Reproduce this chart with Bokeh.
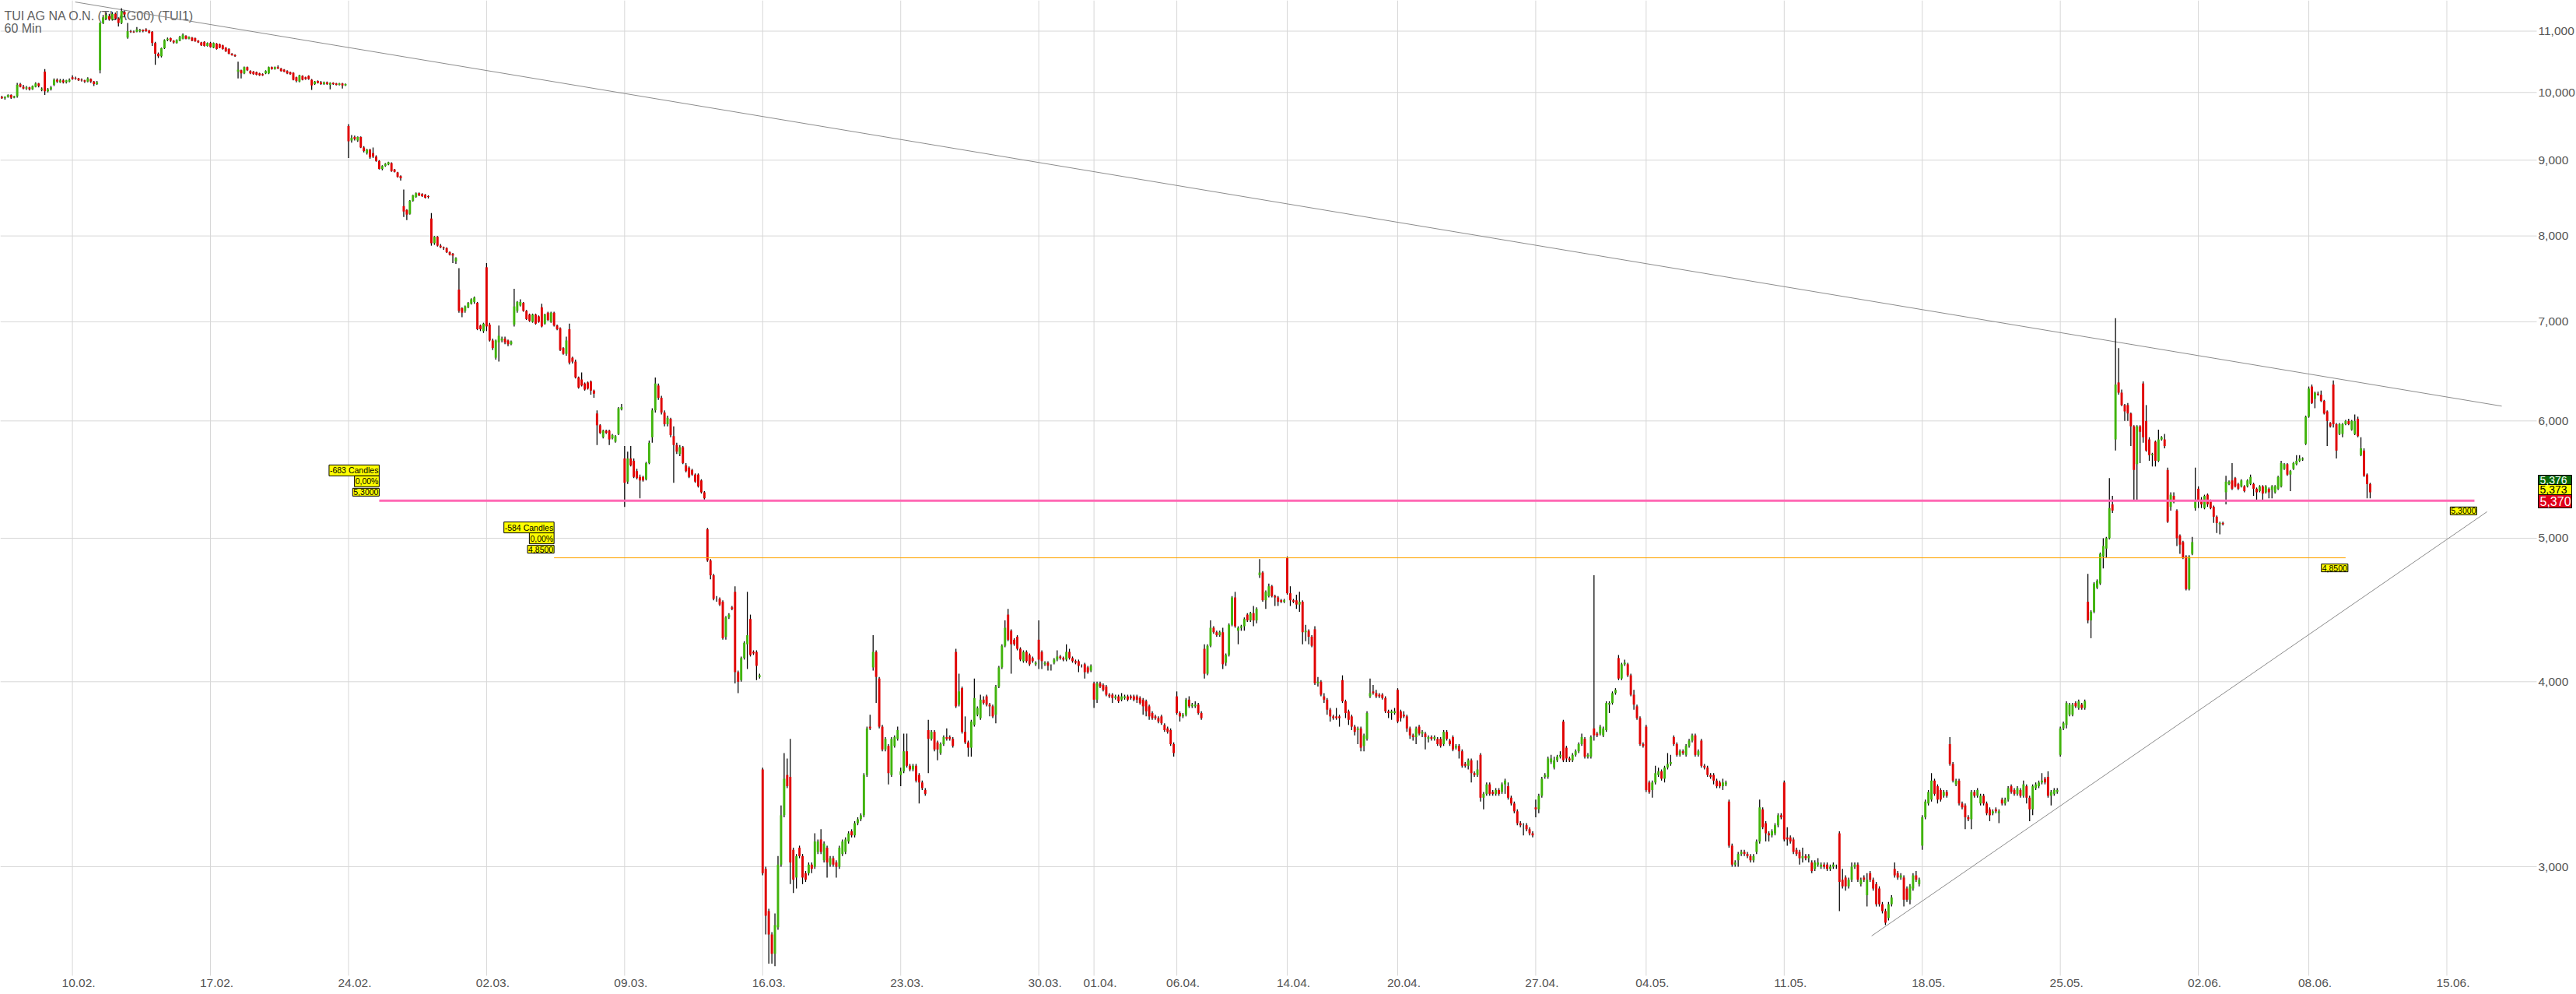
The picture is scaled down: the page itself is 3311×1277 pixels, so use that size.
import math
from bokeh.plotting import figure
from bokeh.models import ColumnDataSource, Range1d
from bokeh.core.properties import value
from bokeh.embed import file_html
from bokeh.resources import INLINE

# ---------------------------------------------------------------- data
title_text = "TUI AG NA O.N. (TUAG00) (TUI1)"
interval_text = "60 Min"

candles_per_day = 9
first_candle_of_first_day = 4      # the series starts in the 5th hour of 05.02.

# trading-day number (10.02. = 0) of the first day in each weekly block
week_start_day = [-3, 0, 5, 10, 15, 20, 25, 30, 35, 40, 44, 48, 53, 57, 62, 67, 72, 77, 81]

# hourly candles (open, high, low, close), one inner list per trading day
w0205 = [
    [(9.93,9.95,9.90,9.91),(9.91,9.94,9.89,9.93),(9.93,9.97,9.92,9.96),(9.96,9.97,9.90,9.92),(9.92,9.95,9.91,9.94)],
    [(9.94,10.15,9.92,10.12),(10.13,10.15,10.08,10.09),(10.09,10.12,10.05,10.06),(10.06,10.10,10.04,10.08),(10.08,10.09,10.03,10.05),(10.05,10.11,10.04,10.10),(10.09,10.16,10.08,10.14),(10.14,10.15,10.08,10.10),(10.04,10.08,10.02,10.06)],
    [(10.33,10.37,9.96,10.02),(10.02,10.07,10.00,10.05),(10.05,10.10,10.03,10.08),(10.12,10.22,10.10,10.20),(10.20,10.22,10.15,10.17),(10.16,10.21,10.15,10.19),(10.19,10.21,10.14,10.16),(10.16,10.20,10.14,10.19),(10.17,10.22,10.16,10.20)],
]
w0210 = [
    [(10.24,10.27,10.20,10.21),(10.23,10.25,10.20,10.22),(10.22,10.23,10.18,10.19),(10.20,10.22,10.17,10.19),(10.19,10.20,10.15,10.17),(10.17,10.24,10.16,10.22),(10.21,10.22,10.15,10.17),(10.17,10.18,10.10,10.13),(10.13,10.18,10.12,10.16)],
    [(10.35,11.15,10.30,11.14),(11.14,11.28,11.12,11.24),(11.22,11.32,11.20,11.28),(11.26,11.30,11.18,11.20),(11.20,11.33,11.18,11.30),(11.30,11.32,11.20,11.22),(11.22,11.24,11.08,11.14),(11.14,11.40,11.12,11.35),(11.33,11.36,11.25,11.29)],
    [(10.89,11.14,10.87,11.00),(11.00,11.02,10.97,10.99),(10.99,11.01,10.97,10.98),(10.99,11.07,10.98,11.03),(11.00,11.04,10.98,11.02),(11.02,11.03,10.98,11.00),(11.03,11.05,10.99,11.00),(11.01,11.02,10.96,10.97),(10.99,11.00,10.75,10.80)],
    [(10.80,10.82,10.44,10.62),(10.62,10.64,10.55,10.58),(10.58,10.72,10.56,10.71),(10.71,10.86,10.70,10.85),(10.85,10.89,10.83,10.87),(10.88,10.89,10.82,10.84),(10.84,10.85,10.79,10.81),(10.80,10.86,10.79,10.85),(10.84,10.92,10.83,10.90)],
    [(10.87,10.96,10.86,10.94),(10.92,10.93,10.86,10.87),(10.87,10.91,10.86,10.90),(10.89,10.90,10.83,10.84),(10.88,10.89,10.82,10.83),(10.84,10.85,10.80,10.81),(10.81,10.82,10.75,10.76),(10.82,10.83,10.74,10.75),(10.75,10.81,10.74,10.80)],
]
w0217 = [
    [(10.80,10.82,10.72,10.73),(10.72,10.81,10.71,10.80),(10.79,10.80,10.69,10.70),(10.78,10.79,10.71,10.72),(10.76,10.77,10.69,10.70),(10.72,10.73,10.65,10.66),(10.70,10.71,10.61,10.62),(10.62,10.63,10.59,10.60),(10.60,10.61,10.57,10.58)],
    [(10.33,10.49,10.22,10.36),(10.35,10.36,10.22,10.30),(10.30,10.41,10.29,10.40),(10.40,10.41,10.34,10.35),(10.34,10.35,10.29,10.30),(10.33,10.34,10.28,10.29),(10.32,10.33,10.27,10.28),(10.30,10.31,10.26,10.27),(10.29,10.30,10.26,10.27)],
    [(10.30,10.35,10.29,10.34),(10.30,10.41,10.29,10.40),(10.40,10.41,10.36,10.37),(10.37,10.41,10.36,10.40),(10.40,10.43,10.37,10.38),(10.38,10.39,10.33,10.34),(10.36,10.37,10.32,10.33),(10.34,10.35,10.29,10.30),(10.32,10.33,10.28,10.29)],
    [(10.31,10.32,10.19,10.20),(10.24,10.25,10.16,10.18),(10.17,10.28,10.16,10.27),(10.26,10.27,10.19,10.20),(10.24,10.25,10.20,10.21),(10.26,10.27,10.20,10.21),(10.20,10.21,10.04,10.11),(10.13,10.18,10.12,10.17),(10.18,10.19,10.14,10.15)],
    [(10.16,10.18,10.12,10.13),(10.13,10.17,10.12,10.16),(10.16,10.17,10.12,10.13),(10.12,10.16,10.05,10.15),(10.15,10.16,10.12,10.13),(10.14,10.15,10.11,10.12),(10.12,10.15,10.11,10.14),(10.14,10.15,10.06,10.11),(10.11,10.14,10.10,10.13)],
]
w0224 = [
    [(9.49,9.52,9.03,9.27),(9.28,9.36,9.25,9.32),(9.33,9.35,9.28,9.30),(9.28,9.34,9.26,9.33),(9.33,9.34,9.17,9.18),(9.18,9.20,9.11,9.13),(9.10,9.16,9.08,9.15),(9.15,9.16,9.02,9.04),(9.10,9.18,9.03,9.05)],
    [(9.05,9.07,8.98,8.99),(8.99,9.00,8.87,8.88),(8.88,8.93,8.86,8.92),(8.92,8.96,8.91,8.95),(8.94,8.98,8.93,8.97),(8.96,8.97,8.84,8.85),(8.87,8.88,8.83,8.84),(8.83,8.84,8.76,8.77),(8.78,8.79,8.72,8.75)],
    [(8.38,8.60,8.24,8.31),(8.33,8.34,8.20,8.27),(8.28,8.46,8.27,8.45),(8.45,8.53,8.44,8.52),(8.50,8.56,8.49,8.55),(8.55,8.56,8.51,8.52),(8.54,8.55,8.50,8.51),(8.53,8.54,8.48,8.49),(8.51,8.52,8.48,8.50)],
    [(8.22,8.29,7.88,7.91),(7.91,8.00,7.89,7.99),(7.99,8.00,7.87,7.88),(7.88,7.90,7.85,7.86),(7.86,7.87,7.83,7.85),(7.85,7.86,7.79,7.80),(7.80,7.81,7.76,7.77),(7.78,7.79,7.67,7.76),(7.69,7.74,7.66,7.73)],
    [(7.36,7.61,7.10,7.12),(7.15,7.16,7.05,7.10),(7.12,7.18,7.10,7.17),(7.16,7.22,7.15,7.21),(7.20,7.26,7.19,7.25),(7.22,7.28,7.20,7.27),(7.21,7.22,6.91,6.92),(6.96,6.97,6.90,6.92),(6.90,6.99,6.88,6.98)],
]
w0302 = [
    [(7.62,7.67,6.90,6.95),(6.97,6.99,6.79,6.80),(6.80,6.82,6.70,6.72),(6.62,6.81,6.60,6.80),(6.78,6.96,6.58,6.85),(6.80,6.84,6.78,6.82),(6.82,6.84,6.76,6.78),(6.80,6.81,6.74,6.76),(6.76,6.80,6.75,6.79)],
    [(6.97,7.37,6.95,7.17),(7.12,7.23,7.10,7.22),(7.18,7.25,7.17,7.22),(7.21,7.22,7.11,7.12),(7.12,7.13,7.02,7.03),(7.08,7.09,7.00,7.01),(7.00,7.09,6.99,7.08),(7.08,7.09,6.97,6.98),(7.06,7.07,6.99,7.00)],
    [(7.16,7.20,6.94,6.95),(6.98,7.09,6.97,7.08),(7.10,7.11,7.01,7.02),(7.00,7.11,6.99,7.10),(7.10,7.11,6.95,6.96),(6.96,6.97,6.91,6.92),(6.93,6.94,6.69,6.70),(6.72,6.73,6.65,6.66),(6.66,6.84,6.64,6.80)],
    [(6.92,6.98,6.55,6.57),(6.62,6.63,6.56,6.58),(6.58,6.60,6.41,6.42),(6.42,6.43,6.31,6.32),(6.40,6.47,6.33,6.34),(6.36,6.37,6.29,6.30),(6.37,6.38,6.30,6.31),(6.38,6.39,6.25,6.29),(6.29,6.30,6.22,6.26)],
    [(6.07,6.10,5.78,5.96),(5.96,5.97,5.88,5.89),(5.85,5.92,5.84,5.91),(5.91,5.92,5.88,5.89),(5.91,5.92,5.78,5.83),(5.84,5.88,5.83,5.87),(5.81,5.87,5.80,5.86),(5.88,6.13,5.87,6.12),(6.11,6.16,6.10,6.13)],
]
w0309 = [
    [(5.66,5.77,5.25,5.45),(5.46,5.72,5.44,5.66),(5.66,5.77,5.59,5.60),(5.64,5.66,5.49,5.50),(5.55,5.57,5.48,5.49),(5.50,5.52,5.32,5.47),(5.50,5.51,5.46,5.47),(5.48,5.63,5.47,5.62),(5.62,5.82,5.61,5.80)],
    [(5.85,6.12,5.80,6.10),(6.10,6.42,6.08,6.36),(6.34,6.36,6.20,6.22),(6.22,6.24,6.06,6.08),(6.08,6.10,5.95,5.97),(5.97,6.05,5.95,6.03),(6.02,6.03,5.85,5.87),(5.86,5.95,5.45,5.78),(5.78,5.80,5.70,5.72)],
    [(5.70,5.78,5.68,5.76),(5.76,5.77,5.61,5.62),(5.60,5.62,5.54,5.55),(5.58,5.59,5.49,5.50),(5.56,5.57,5.51,5.52),(5.52,5.53,5.45,5.46),(5.52,5.53,5.41,5.42),(5.47,5.48,5.36,5.37),(5.37,5.38,5.31,5.32)],
    [(5.07,5.08,4.82,4.83),(4.83,4.84,4.69,4.72),(4.72,4.73,4.54,4.55),(4.55,4.57,4.53,4.55),(4.55,4.56,4.50,4.51),(4.53,4.54,4.27,4.28),(4.29,4.43,4.27,4.42),(4.42,4.45,4.41,4.44),(4.49,4.50,4.47,4.48)],
    [(4.60,4.64,3.99,4.06),(4.06,4.07,3.93,4.00),(4.01,4.16,4.00,4.15),(4.15,4.26,4.14,4.25),(4.24,4.60,4.08,4.30),(4.41,4.44,4.16,4.17),(4.19,4.20,4.17,4.18),(4.19,4.20,4.01,4.10),(4.03,4.05,4.02,4.04)],
]
w0316 = [
    [(3.49,3.50,2.96,2.97),(2.99,3.00,2.70,2.78),(2.80,2.81,2.58,2.70),(2.70,2.71,2.58,2.62),(2.62,2.79,2.57,2.74),(2.73,3.05,2.72,3.01),(3.01,3.30,3.00,3.25),(3.25,3.58,3.24,3.44),(3.46,3.55,3.39,3.40)],
    [(3.45,3.66,2.92,3.02),(3.08,3.09,2.88,2.94),(2.95,3.06,2.90,3.05),(3.09,3.10,3.04,3.05),(3.05,3.06,2.92,2.95),(2.97,2.98,2.93,2.94),(2.97,3.02,2.96,3.01),(3.01,3.02,2.97,2.99),(3.00,3.16,2.99,3.12)],
    [(3.07,3.13,3.06,3.12),(3.13,3.18,3.06,3.07),(3.03,3.12,3.02,3.11),(3.09,3.10,2.95,3.02),(3.01,3.05,3.00,3.04),(3.04,3.05,3.00,3.01),(3.02,3.03,2.95,3.00),(3.00,3.10,2.99,3.09),(3.06,3.13,3.05,3.12)],
    [(3.07,3.14,3.06,3.13),(3.12,3.17,3.11,3.16),(3.17,3.18,3.14,3.15),(3.15,3.22,3.14,3.21),(3.21,3.24,3.20,3.23),(3.23,3.26,3.22,3.25),(3.25,3.47,3.24,3.46),(3.46,3.73,3.45,3.72),(3.73,3.80,3.71,3.72)],
    [(4.09,4.30,4.07,4.19),(4.19,4.20,3.87,4.03),(4.02,4.03,3.72,3.73),(3.73,3.74,3.59,3.60),(3.60,3.67,3.59,3.66),(3.62,3.63,3.41,3.47),(3.46,3.67,3.45,3.66),(3.62,3.68,3.61,3.67),(3.66,3.73,3.65,3.71)],
]
w0323 = [
    [(3.46,3.50,3.40,3.48),(3.48,3.69,3.47,3.59),(3.59,3.69,3.50,3.51),(3.51,3.52,3.48,3.49),(3.49,3.52,3.48,3.51),(3.51,3.52,3.42,3.43),(3.46,3.47,3.31,3.42),(3.42,3.43,3.38,3.39),(3.38,3.39,3.35,3.36)],
    [(3.71,3.77,3.47,3.66),(3.66,3.71,3.65,3.70),(3.70,3.71,3.59,3.60),(3.64,3.65,3.54,3.60),(3.58,3.64,3.57,3.63),(3.63,3.68,3.62,3.67),(3.67,3.72,3.65,3.66),(3.67,3.68,3.65,3.66),(3.66,3.67,3.61,3.62)],
    [(4.19,4.21,3.84,3.85),(3.86,4.05,3.85,3.94),(3.96,3.97,3.69,3.70),(3.70,3.79,3.63,3.64),(3.64,3.65,3.56,3.61),(3.61,3.77,3.56,3.76),(3.74,4.02,3.73,3.90),(3.80,3.85,3.79,3.84),(3.78,3.92,3.77,3.89)],
    [(3.89,3.91,3.86,3.87),(3.91,3.92,3.85,3.86),(3.86,3.87,3.79,3.85),(3.85,3.86,3.78,3.79),(3.80,3.98,3.75,3.97),(3.97,4.10,3.96,4.09),(4.09,4.24,4.08,4.23),(4.23,4.40,4.22,4.35),(4.44,4.48,4.26,4.27)],
    [(4.33,4.34,4.05,4.24),(4.27,4.28,4.23,4.24),(4.29,4.30,4.20,4.21),(4.21,4.22,4.13,4.14),(4.13,4.20,4.12,4.19),(4.19,4.20,4.12,4.13),(4.17,4.18,4.10,4.11),(4.15,4.16,4.12,4.13),(4.11,4.13,4.10,4.12)],
]
w0330 = [
    [(4.27,4.40,4.08,4.14),(4.19,4.20,4.08,4.13),(4.11,4.13,4.10,4.12),(4.12,4.13,4.07,4.10),(4.10,4.11,4.07,4.10),(4.12,4.15,4.11,4.14),(4.14,4.20,4.13,4.16),(4.16,4.17,4.14,4.15),(4.15,4.16,4.13,4.14)],
    [(4.14,4.24,4.13,4.19),(4.19,4.21,4.14,4.15),(4.15,4.16,4.12,4.13),(4.13,4.14,4.11,4.12),(4.13,4.14,4.06,4.10),(4.10,4.11,4.09,4.10),(4.11,4.12,4.02,4.06),(4.09,4.10,4.05,4.06),(4.07,4.11,4.06,4.10)],
    [(3.99,4.00,3.84,3.89),(3.89,4.00,3.87,3.99),(3.99,4.00,3.96,3.97),(3.98,3.99,3.94,3.95),(3.97,3.98,3.91,3.92),(3.92,3.93,3.90,3.91),(3.92,3.93,3.87,3.90),(3.90,3.92,3.89,3.91),(3.91,3.92,3.87,3.88)],
    [(3.89,3.93,3.88,3.91),(3.90,3.92,3.89,3.91),(3.91,3.92,3.88,3.89),(3.91,3.92,3.89,3.90),(3.91,3.92,3.88,3.89),(3.91,3.92,3.87,3.89),(3.90,3.91,3.86,3.87),(3.89,3.90,3.80,3.85),(3.88,3.89,3.79,3.82)],
    [(3.85,3.86,3.77,3.79),(3.81,3.82,3.77,3.78),(3.79,3.80,3.77,3.78),(3.78,3.79,3.75,3.76),(3.79,3.80,3.74,3.75),(3.74,3.75,3.70,3.71),(3.72,3.73,3.69,3.70),(3.71,3.72,3.62,3.63),(3.63,3.64,3.56,3.58)],
]
w0406 = [
    [(3.91,3.94,3.80,3.81),(3.81,3.82,3.76,3.79),(3.79,3.81,3.78,3.80),(3.80,3.90,3.79,3.89),(3.89,3.91,3.84,3.85),(3.85,3.87,3.84,3.86),(3.85,3.88,3.84,3.86),(3.86,3.87,3.80,3.81),(3.81,3.82,3.77,3.78)],
    [(4.21,4.24,4.02,4.05),(4.05,4.24,4.04,4.23),(4.23,4.40,4.22,4.35),(4.35,4.36,4.31,4.32),(4.32,4.33,4.29,4.30),(4.30,4.33,4.29,4.32),(4.32,4.35,4.08,4.11),(4.12,4.18,4.10,4.17),(4.17,4.38,4.16,4.37)],
    [(4.37,4.57,4.36,4.56),(4.56,4.60,4.35,4.36),(4.33,4.36,4.24,4.35),(4.35,4.37,4.33,4.36),(4.36,4.42,4.33,4.41),(4.44,4.45,4.39,4.40),(4.40,4.46,4.39,4.45),(4.45,4.50,4.36,4.40),(4.40,4.49,4.38,4.48)],
    [(4.72,4.84,4.70,4.74),(4.74,4.75,4.53,4.54),(4.54,4.61,4.48,4.60),(4.57,4.66,4.56,4.64),(4.64,4.65,4.56,4.57),(4.57,4.58,4.50,4.56),(4.56,4.57,4.50,4.53),(4.54,4.55,4.52,4.53),(4.53,4.55,4.52,4.54)],
]
w0414 = [
    [(4.85,4.86,4.58,4.59),(4.59,4.64,4.50,4.54),(4.54,4.55,4.52,4.53),(4.54,4.58,4.48,4.51),(4.51,4.60,4.46,4.53),(4.53,4.54,4.24,4.32),(4.32,4.37,4.26,4.33),(4.33,4.34,4.24,4.29),(4.29,4.30,4.22,4.23)],
    [(4.34,4.36,3.98,3.99),(3.99,4.03,3.97,4.00),(4.00,4.01,3.91,3.92),(3.91,3.93,3.87,3.89),(3.89,3.90,3.80,3.83),(3.83,3.84,3.76,3.79),(3.79,3.80,3.77,3.78),(3.79,3.84,3.77,3.78),(3.79,3.80,3.73,3.78)],
    [(4.01,4.04,3.87,3.88),(3.88,3.89,3.78,3.81),(3.82,3.83,3.74,3.77),(3.79,3.80,3.71,3.73),(3.73,3.74,3.68,3.70),(3.71,3.73,3.63,3.72),(3.72,3.73,3.59,3.61),(3.62,3.69,3.59,3.68),(3.66,3.82,3.65,3.81)],
    [(3.91,4.02,3.90,3.93),(3.94,3.98,3.92,3.93),(3.93,3.95,3.90,3.91),(3.92,3.93,3.90,3.91),(3.92,3.93,3.89,3.90),(3.90,3.91,3.81,3.82),(3.82,3.83,3.78,3.81),(3.81,3.83,3.77,3.82),(3.81,3.84,3.80,3.82)],
]
w0420 = [
    [(3.95,3.96,3.75,3.76),(3.82,3.83,3.76,3.78),(3.80,3.82,3.78,3.79),(3.79,3.80,3.70,3.72),(3.72,3.73,3.66,3.68),(3.68,3.69,3.65,3.67),(3.67,3.73,3.63,3.72),(3.73,3.74,3.68,3.69),(3.69,3.71,3.67,3.70)],
    [(3.69,3.70,3.60,3.67),(3.66,3.68,3.64,3.67),(3.67,3.68,3.65,3.66),(3.66,3.68,3.65,3.67),(3.66,3.67,3.62,3.63),(3.66,3.67,3.61,3.62),(3.63,3.71,3.62,3.70),(3.70,3.71,3.65,3.66),(3.65,3.66,3.62,3.63)],
    [(3.67,3.68,3.59,3.60),(3.61,3.63,3.60,3.62),(3.62,3.63,3.55,3.59),(3.59,3.60,3.50,3.51),(3.52,3.53,3.50,3.51),(3.51,3.55,3.49,3.54),(3.54,3.55,3.42,3.47),(3.47,3.48,3.45,3.46),(3.46,3.54,3.45,3.49)],
    [(3.57,3.58,3.32,3.34),(3.34,3.37,3.28,3.36),(3.36,3.42,3.35,3.41),(3.41,3.42,3.35,3.36),(3.37,3.38,3.35,3.36),(3.36,3.39,3.35,3.38),(3.38,3.39,3.35,3.36),(3.37,3.42,3.36,3.41),(3.41,3.44,3.36,3.43)],
    [(3.40,3.42,3.33,3.34),(3.34,3.35,3.30,3.31),(3.31,3.32,3.26,3.27),(3.27,3.28,3.20,3.21),(3.21,3.22,3.19,3.20),(3.20,3.21,3.15,3.20),(3.20,3.21,3.17,3.18),(3.18,3.19,3.15,3.16),(3.16,3.17,3.14,3.15)],
]
w0427 = [
    [(3.29,3.33,3.24,3.28),(3.28,3.36,3.26,3.35),(3.35,3.45,3.34,3.44),(3.45,3.47,3.44,3.46),(3.45,3.56,3.44,3.55),(3.53,3.57,3.52,3.55),(3.50,3.56,3.49,3.54),(3.54,3.57,3.53,3.56),(3.56,3.59,3.55,3.57)],
    [(3.76,3.77,3.53,3.54),(3.61,3.62,3.53,3.55),(3.55,3.56,3.53,3.54),(3.54,3.58,3.53,3.57),(3.57,3.60,3.56,3.59),(3.59,3.64,3.58,3.63),(3.63,3.69,3.62,3.67),(3.66,3.67,3.55,3.56),(3.56,3.58,3.55,3.57)],
    [(3.56,3.68,3.55,3.67),(3.72,4.72,3.65,3.68),(3.69,3.70,3.67,3.68),(3.69,3.74,3.68,3.73),(3.68,3.73,3.67,3.72),(3.71,3.88,3.70,3.87),(3.86,3.88,3.81,3.87),(3.87,3.94,3.86,3.93),(3.93,3.96,3.92,3.95)],
    [(4.15,4.17,4.01,4.02),(4.02,4.12,4.01,4.11),(4.11,4.14,4.10,4.12),(4.11,4.12,4.03,4.04),(4.04,4.05,3.91,3.92),(3.92,3.95,3.83,3.86),(3.85,3.86,3.77,3.78),(3.78,3.79,3.62,3.63),(3.63,3.64,3.61,3.62)],
]
w0504 = [
    [(3.73,3.74,3.37,3.38),(3.42,3.43,3.36,3.37),(3.38,3.43,3.34,3.42),(3.42,3.51,3.41,3.47),(3.46,3.50,3.45,3.48),(3.48,3.49,3.43,3.44),(3.44,3.51,3.42,3.50),(3.50,3.58,3.49,3.52),(3.52,3.57,3.51,3.53)],
    [(3.67,3.68,3.62,3.63),(3.63,3.64,3.56,3.57),(3.57,3.60,3.56,3.59),(3.59,3.60,3.57,3.58),(3.57,3.63,3.56,3.62),(3.62,3.66,3.61,3.65),(3.65,3.69,3.64,3.68),(3.68,3.69,3.56,3.57),(3.57,3.60,3.56,3.59)],
    [(3.65,3.66,3.50,3.51),(3.51,3.52,3.49,3.50),(3.50,3.51,3.45,3.46),(3.46,3.47,3.44,3.45),(3.46,3.47,3.41,3.43),(3.43,3.44,3.39,3.40),(3.42,3.43,3.39,3.40),(3.40,3.44,3.38,3.42),(3.41,3.43,3.40,3.42)],
    [(3.32,3.33,3.09,3.10),(3.10,3.11,3.00,3.01),(3.01,3.03,3.00,3.02),(3.03,3.07,3.00,3.06),(3.06,3.08,3.05,3.07),(3.07,3.08,3.05,3.06),(3.06,3.07,3.04,3.05),(3.05,3.06,3.02,3.03),(3.03,3.06,3.02,3.05)],
    [(3.07,3.13,3.06,3.12),(3.12,3.33,3.11,3.29),(3.28,3.29,3.18,3.19),(3.21,3.22,3.12,3.16),(3.16,3.17,3.12,3.15),(3.15,3.18,3.14,3.17),(3.16,3.21,3.15,3.20),(3.20,3.26,3.19,3.25),(3.25,3.26,3.23,3.24)],
]
w0511 = [
    [(3.42,3.43,3.12,3.13),(3.14,3.19,3.10,3.13),(3.14,3.15,3.11,3.12),(3.13,3.14,3.06,3.07),(3.08,3.09,3.05,3.06),(3.07,3.08,3.01,3.04),(3.04,3.09,3.02,3.05),(3.05,3.06,3.03,3.04),(3.04,3.06,3.02,3.05)],
    [(3.02,3.03,2.97,2.98),(2.99,3.03,2.98,3.02),(3.01,3.04,3.00,3.02),(3.00,3.02,2.99,3.01),(3.01,3.02,2.99,3.00),(3.01,3.02,2.98,2.99),(2.99,3.01,2.98,3.00),(3.00,3.02,2.99,3.01),(3.00,3.01,2.99,3.00)],
    [(3.16,3.17,2.80,2.93),(2.94,2.99,2.90,2.91),(2.95,2.96,2.89,2.91),(2.91,2.95,2.90,2.94),(2.94,3.02,2.93,3.00),(3.00,3.02,2.99,3.01),(3.01,3.02,2.93,2.94),(2.92,2.95,2.91,2.94),(2.95,2.96,2.93,2.94)],
    [(2.87,2.97,2.82,2.94),(2.97,2.98,2.93,2.94),(2.94,2.95,2.89,2.90),(2.92,2.93,2.82,2.83),(2.90,2.91,2.82,2.83),(2.83,2.84,2.79,2.80),(2.80,2.81,2.74,2.75),(2.77,2.84,2.76,2.83),(2.83,2.87,2.82,2.86)],
    [(2.99,3.02,2.95,2.96),(2.97,2.98,2.94,2.95),(2.95,2.97,2.94,2.96),(2.95,2.96,2.82,2.85),(2.90,2.91,2.84,2.85),(2.85,2.92,2.83,2.91),(2.90,2.97,2.89,2.96),(2.96,2.98,2.93,2.94),(2.92,2.95,2.91,2.94)],
]
w0518 = [
    [(3.10,3.25,3.08,3.24),(3.24,3.33,3.23,3.32),(3.31,3.38,3.30,3.37),(3.33,3.47,3.32,3.43),(3.43,3.44,3.35,3.36),(3.40,3.41,3.31,3.33),(3.38,3.39,3.32,3.33),(3.35,3.38,3.34,3.37),(3.37,3.38,3.34,3.35)],
    [(3.63,3.67,3.51,3.52),(3.52,3.53,3.42,3.43),(3.41,3.44,3.40,3.43),(3.43,3.44,3.30,3.31),(3.31,3.32,3.28,3.29),(3.30,3.31,3.18,3.24),(3.24,3.25,3.22,3.23),(3.23,3.38,3.18,3.37),(3.37,3.38,3.34,3.35)],
    [(3.35,3.39,3.34,3.38),(3.31,3.36,3.30,3.35),(3.35,3.36,3.30,3.31),(3.31,3.32,3.25,3.26),(3.28,3.29,3.22,3.25),(3.26,3.28,3.25,3.27),(3.28,3.29,3.26,3.27),(3.26,3.28,3.21,3.27),(3.33,3.34,3.30,3.31)],
    [(3.31,3.34,3.30,3.33),(3.33,3.40,3.32,3.39),(3.40,3.41,3.36,3.37),(3.38,3.39,3.35,3.36),(3.36,3.40,3.35,3.39),(3.38,3.39,3.34,3.35),(3.35,3.43,3.34,3.41),(3.40,3.41,3.31,3.34),(3.34,3.35,3.22,3.28)],
    [(3.28,3.41,3.25,3.40),(3.39,3.42,3.38,3.41),(3.40,3.43,3.39,3.42),(3.42,3.47,3.41,3.43),(3.44,3.45,3.41,3.42),(3.45,3.48,3.34,3.35),(3.35,3.38,3.30,3.37),(3.36,3.39,3.35,3.38),(3.37,3.39,3.36,3.38)],
]
w0525 = [
    [(3.57,3.73,3.56,3.72),(3.72,3.76,3.71,3.75),(3.74,3.88,3.72,3.87),(3.80,3.87,3.79,3.86),(3.80,3.87,3.79,3.86),(3.87,3.88,3.84,3.85),(3.84,3.89,3.83,3.88),(3.86,3.87,3.83,3.84),(3.84,3.89,3.83,3.88)],
    [(4.53,4.73,4.38,4.40),(4.40,4.47,4.28,4.46),(4.46,4.67,4.45,4.66),(4.63,4.69,4.62,4.68),(4.66,4.89,4.65,4.88),(4.86,5.00,4.77,4.94),(4.92,5.01,4.85,5.00),(5.00,5.49,4.99,5.24),(5.27,5.34,5.20,5.22)],
    [(5.83,7.04,5.73,6.35),(6.37,6.72,6.25,6.27),(6.27,6.30,6.14,6.15),(6.15,6.16,6.00,6.09),(6.15,6.17,6.00,6.07),(6.07,6.08,5.77,5.95),(5.95,5.96,5.30,5.56),(5.61,5.96,5.30,5.95),(5.95,5.96,5.62,5.90)],
    [(6.36,6.38,5.80,5.85),(6.00,6.15,5.72,5.73),(5.83,5.85,5.64,5.69),(5.69,5.71,5.59,5.70),(5.81,5.82,5.59,5.64),(5.64,5.92,5.63,5.83),(5.83,5.86,5.82,5.85),(5.83,5.88,5.75,5.77),(5.56,5.58,5.12,5.13)],
    [(5.25,5.37,5.22,5.35),(5.34,5.37,5.28,5.29),(5.22,5.23,4.94,5.00),(5.02,5.03,4.88,4.95),(4.97,4.98,4.84,4.85),(4.86,4.87,4.61,4.62),(4.62,4.87,4.61,4.86),(4.88,5.01,4.87,4.97),(5.24,5.58,5.22,5.30)],
]
w0602 = [
    [(5.40,5.42,5.24,5.30),(5.31,5.33,5.24,5.27),(5.24,5.35,5.23,5.34),(5.35,5.36,5.25,5.27),(5.30,5.31,5.23,5.24),(5.25,5.26,5.12,5.17),(5.17,5.18,5.04,5.12),(5.11,5.13,5.03,5.12),(5.12,5.13,5.10,5.11)],
    [(5.37,5.51,5.27,5.46),(5.44,5.47,5.43,5.46),(5.47,5.62,5.39,5.40),(5.49,5.50,5.41,5.42),(5.44,5.45,5.39,5.40),(5.42,5.48,5.41,5.47),(5.42,5.43,5.37,5.38),(5.42,5.48,5.41,5.47),(5.44,5.52,5.43,5.50)],
    [(5.44,5.45,5.34,5.40),(5.40,5.41,5.30,5.37),(5.38,5.43,5.37,5.42),(5.42,5.43,5.30,5.36),(5.37,5.43,5.36,5.42),(5.40,5.41,5.32,5.37),(5.39,5.43,5.32,5.42),(5.37,5.43,5.36,5.42),(5.40,5.51,5.39,5.50)],
    [(5.42,5.64,5.41,5.62),(5.57,5.62,5.56,5.61),(5.61,5.62,5.51,5.52),(5.52,5.56,5.38,5.55),(5.57,5.63,5.56,5.62),(5.61,5.69,5.60,5.64),(5.64,5.69,5.63,5.66),(5.65,5.67,5.64,5.66),(5.79,6.05,5.78,6.04)],
]
w0608 = [
    [(6.04,6.33,6.03,6.31),(6.33,6.35,6.16,6.17),(6.21,6.28,6.12,6.27),(6.26,6.28,6.24,6.25),(6.25,6.29,6.18,6.19),(6.19,6.20,6.06,6.07),(6.09,6.10,5.77,6.00),(5.98,5.99,5.94,5.95),(6.35,6.39,5.94,5.97)],
    [(5.97,5.98,5.66,5.73),(5.88,5.98,5.87,5.97),(5.88,5.98,5.85,5.97),(5.97,6.01,5.96,6.00),(6.00,6.02,5.96,5.97),(5.92,6.01,5.91,6.00),(5.88,6.06,5.87,6.00),(6.02,6.04,5.85,5.86),(5.69,5.85,5.68,5.75)],
    [(5.73,5.75,5.50,5.51),(5.52,5.53,5.32,5.44),(5.44,5.45,5.32,5.37)],
]
weeks = [w0205, w0210, w0217, w0224, w0302, w0309, w0316, w0323, w0330, w0406,
         w0414, w0420, w0427, w0504, w0511, w0518, w0525, w0602, w0608]

# x-axis: week labels and the trading day they fall on
date_labels = ["10.02.", "17.02.", "24.02.", "02.03.", "09.03.", "16.03.", "23.03.", "30.03.", "01.04.", "06.04.",
               "14.04.", "20.04.", "27.04.", "04.05.", "11.05.", "18.05.", "25.05.", "02.06.", "08.06.", "15.06."]
date_days = [0, 5, 10, 15, 20, 25, 30, 35, 37, 40, 44, 48, 53, 57, 62, 67, 72, 77, 81, 86]

# y-axis (log scale)
y_ticks = [3, 4, 5, 6, 7, 8, 9, 10, 11]
y_tick_labels = ["3,000", "4,000", "5,000", "6,000", "7,000", "8,000", "9,000", "10,000", "11,000"]

# horizontal support lines: price, first and last candle index
level_prices = [5.30, 4.85]
level_start = [100, 157]
level_end = [783, 741]

# trend lines (candle index, price)
trend_down_x = [0.9, 791.9]
trend_down_y = [11.51, 6.14]
trend_up_x = [586.5, 787.1]
trend_up_y = [2.694, 5.21]

# last quotes shown on the price axis
quote_labels = ["5,376", "5,373", "5,370"]

# ---------------------------------------------------------------- geometry
W, H = 3310, 1276
ORIGIN = 0          # screen position of the figure's top-left corner
SX0 = 92.6          # screen x of candle 0
PX_C = 3.943        # pixels per candle
SY3 = 1113.0        # screen y of price 3
PX_LN = 826.2       # pixels per ln unit


def sx_to_i(sx):
    return (sx - SX0) / PX_C


def sy_to_p(sy):
    return 3.0 * math.exp((SY3 - sy) / PX_LN)


def p_to_sy(p):
    return SY3 - PX_LN * math.log(p / 3.0)


FONT = value("Liberation Sans")

# ---------------------------------------------------------------- candles
idx, op, hi, lo, cl = [], [], [], [], []
for wi, (start, week) in enumerate(zip(week_start_day, weeks)):
    for n, day in enumerate(week):
        d = start + n
        k0 = first_candle_of_first_day if (wi == 0 and n == 0) else 0
        for k, (o, h, l, c) in enumerate(day):
            idx.append(d * candles_per_day + k0 + k)
            op.append(o)
            hi.append(h)
            lo.append(l)
            cl.append(c)

UP, DOWN = "#41b40c", "#e00000"
src = ColumnDataSource(dict(
    i=idx, o=op, h=hi, l=lo, c=cl,
    top=[max(a, b) for a, b in zip(op, cl)],
    bottom=[min(a, b) for a, b in zip(op, cl)],
    color=[UP if b >= a else DOWN for a, b in zip(op, cl)],
))

x_start, x_end = sx_to_i(ORIGIN), sx_to_i(ORIGIN + W)
y_bot, y_top = sy_to_p(ORIGIN + H), sy_to_p(ORIGIN)

p = figure(width=W, height=H, x_range=Range1d(x_start, x_end), y_range=Range1d(y_bot, y_top),
           y_axis_type="log", x_axis_location=None, y_axis_location=None,
           toolbar_location=None, output_backend="svg", min_border=0)
p.outline_line_color = None
p.grid.visible = False
p.background_fill_color = "white"
p.border_fill_color = "white"

GRID = "#d7d7d7"
grid_right = sx_to_i(3260)
p.segment(x0=[x_start] * len(y_ticks), x1=[grid_right] * len(y_ticks), y0=y_ticks, y1=y_ticks,
          line_color=GRID, line_width=1)
gx = [d * candles_per_day for d in date_days]
p.segment(x0=gx, x1=gx, y0=[y_top] * len(gx), y1=[sy_to_p(1253)] * len(gx),
          line_color=GRID, line_width=1)

# title (drawn below the candles)
p.text(x=[sx_to_i(5), sx_to_i(5)], y=[sy_to_p(20), sy_to_p(36)], text=[title_text, interval_text],
       text_font=FONT, text_font_size="16px", text_color="#5f5f5f",
       text_align="left", text_baseline="middle")

# trend lines
p.line(x=trend_down_x, y=trend_down_y, line_color="#8c8c8c", line_width=1)
p.line(x=trend_up_x, y=trend_up_y, line_color="#8c8c8c", line_width=1)

# candles
p.segment(x0="i", y0="h", x1="i", y1="l", source=src, line_color="black", line_width=1.25)
p.vbar(x="i", width=0.74, top="top", bottom="bottom", fill_color="color", line_color=None, source=src)

# support lines
LEVEL_COLORS = ["#ff69b4", "#ffa500"]
LEVEL_WIDTHS = [3, 1]
for lv, s, e, col, lw in zip(level_prices, level_start, level_end, LEVEL_COLORS, LEVEL_WIDTHS):
    p.segment(x0=[s], x1=[e], y0=[lv], y1=[lv], line_color=col, line_width=lw)

# yellow info boxes of the support lines
for lv, s, e in zip(level_prices, level_start, level_end):
    ly = p_to_sy(lv)
    price_txt = ("%.4f" % lv).replace(".", ",")
    texts = ["-%d Candles" % (e - s), "0,00%", price_txt]
    ys = [sy_to_p(ly - 39), sy_to_p(ly - 25), sy_to_p(ly - 11)]
    xl = sx_to_i(SX0 + PX_C * s)
    p.text(x=[xl] * 3, y=ys, text=texts, text_font=FONT, text_font_size="10.5px",
           text_color="black", text_align="right", text_baseline="middle",
           background_fill_color="#ffff00", border_line_color="black", border_line_width=1, padding=1)
    p.text(x=[sx_to_i(SX0 + PX_C * e + 3)], y=[sy_to_p(ly + 13)], text=[price_txt], text_font=FONT,
           text_font_size="10.5px", text_color="black", text_align="right", text_baseline="middle",
           background_fill_color="#ffff00", border_line_color="black", border_line_width=1, padding=1)

# price axis labels
p.text(x=[sx_to_i(3262)] * len(y_ticks), y=y_ticks, text=y_tick_labels, text_font=FONT,
       text_font_size="15.5px", text_color="#555555", text_align="left", text_baseline="middle")

# date labels
p.text(x=[g + 8 / PX_C for g in gx], y=[sy_to_p(1262)] * len(gx), text=date_labels, text_font=FONT,
       text_font_size="15.5px", text_color="#555555", text_align="center", text_baseline="middle")

# last quote boxes on the price axis
box_edges = [(610, 622), (622, 635), (635, 652)]
box_fill = ["#0a690a", "#ffff00", "#e0001a"]
box_text = ["white", "black", "white"]
qx0, qx1 = sx_to_i(3262), sx_to_i(3305)
p.quad(left=[qx0] * 3, right=[qx1] * 3, top=[sy_to_p(a) for a, b in box_edges],
       bottom=[sy_to_p(b) for a, b in box_edges], fill_color=box_fill, line_color="black", line_width=1)
p.text(x=[sx_to_i(3264)] * 3, y=[sy_to_p((a + b) / 2) for a, b in box_edges], text=quote_labels,
       text_font=FONT, text_font_size=["14px", "14px", "16px"], text_color=box_text,
       text_align="left", text_baseline="middle")

open("out.html", "w").write(file_html(p, INLINE))
